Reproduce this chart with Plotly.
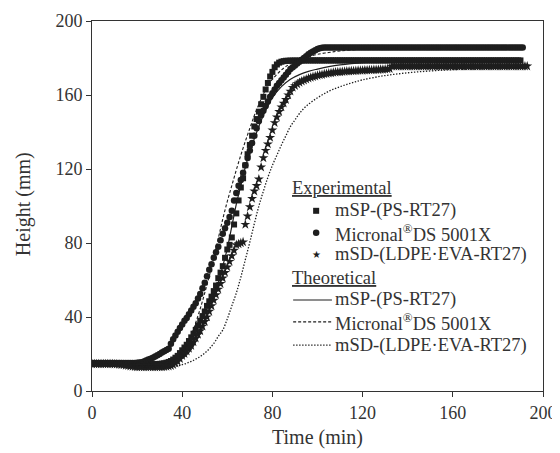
import plotly.graph_objects as go

# experimental data, sampled every minute
t_sp = list(range(0, 191))
h_sp = [
    15.0, 15.0, 15.0, 15.0, 15.0, 15.0, 15.0, 14.9, 14.9, 14.9,
    14.9, 14.8, 14.8, 14.8, 14.7, 14.7, 14.6, 14.6, 14.5, 14.5,
    14.5, 14.4, 14.4, 14.4, 14.4, 14.4, 14.5, 14.5, 14.5, 14.6,
    14.7, 14.8, 15.0, 15.3, 15.7, 16.2, 17.0, 18.0, 19.0, 20.5,
    22.0, 23.5, 25.0, 27.0, 29.0, 31.0, 33.0, 35.5, 38.0, 40.5,
    43.0, 46.0, 48.5, 51.0, 54.0, 57.0, 61.0, 64.0, 67.5, 72.0,
    76.5, 79.0, 83.0, 90.0, 96.0, 103.0, 110.0, 115.0, 122.0, 128.0,
    133.0, 138.0, 143.0, 147.0, 151.0, 155.0, 159.0, 163.0, 166.5, 170.0,
    172.5, 175.0, 176.5, 177.5, 178.0, 178.3, 178.5, 178.5, 178.6, 178.6,
    178.6, 178.6, 178.6, 178.6, 178.7, 178.7, 178.7, 178.7, 178.7, 178.7,
    178.7, 178.7, 178.7, 178.7, 178.7, 178.7, 178.7, 178.7, 178.7, 178.7,
    178.7, 178.7, 178.7, 178.7, 178.7, 178.7, 178.7, 178.7, 178.7, 178.7,
    178.7, 178.7, 178.7, 178.7, 178.7, 178.7, 178.7, 178.7, 178.7, 178.7,
    178.7, 178.7, 178.7, 178.7, 178.7, 178.7, 178.7, 178.7, 178.7, 178.7,
    178.7, 178.7, 178.7, 178.7, 178.7, 178.7, 178.7, 178.7, 178.7, 178.7,
    178.7, 178.7, 178.7, 178.7, 178.7, 178.7, 178.7, 178.7, 178.7, 178.7,
    178.7, 178.7, 178.7, 178.7, 178.7, 178.7, 178.7, 178.7, 178.7, 178.7,
    178.7, 178.7, 178.7, 178.7, 178.7, 178.7, 178.7, 178.7, 178.7, 178.7,
    178.7, 178.7, 178.7, 178.7, 178.7, 178.7, 178.7, 178.7, 178.7, 178.7,
    178.7,
]

t_ds = list(range(0, 192))
h_ds = [
    15.2, 15.2, 15.2, 15.2, 15.2, 15.2, 15.2, 15.2, 15.2, 15.2,
    15.2, 15.2, 15.2, 15.2, 15.2, 15.1, 15.1, 15.1, 15.2, 15.2,
    15.3, 15.4, 15.6, 16.0, 16.5, 17.0, 17.5, 18.0, 18.6, 19.3,
    20.0, 20.8, 21.5, 22.2, 22.8, 25.5, 28.0, 30.0, 32.0, 34.0,
    36.0, 38.0, 39.5, 41.5, 43.5, 45.5, 47.5, 50.0, 52.5, 55.5,
    58.5, 62.0, 65.5, 68.5, 72.0, 75.0, 78.0, 81.5, 85.0, 88.0,
    91.0, 94.0, 97.5, 103.0, 107.0, 111.0, 114.0, 118.0, 122.0, 126.0,
    130.0, 134.0, 138.0, 142.0, 146.0, 149.0, 151.5, 154.0, 156.5, 159.0,
    161.0, 163.0, 165.0, 166.5, 168.0, 169.5, 171.0, 172.5, 174.0, 175.0,
    176.0, 177.0, 178.0, 179.0, 180.0, 181.0, 182.0, 182.8, 183.5, 184.2,
    184.8, 185.3, 185.6, 185.7, 185.7, 185.7, 185.7, 185.7, 185.7, 185.7,
    185.7, 185.7, 185.7, 185.7, 185.7, 185.7, 185.7, 185.7, 185.7, 185.7,
    185.7, 185.7, 185.7, 185.7, 185.7, 185.7, 185.7, 185.7, 185.7, 185.7,
    185.7, 185.7, 185.7, 185.7, 185.7, 185.7, 185.7, 185.7, 185.7, 185.7,
    185.7, 185.7, 185.7, 185.7, 185.7, 185.7, 185.7, 185.7, 185.7, 185.7,
    185.7, 185.7, 185.7, 185.7, 185.7, 185.7, 185.7, 185.7, 185.7, 185.7,
    185.7, 185.7, 185.7, 185.7, 185.7, 185.7, 185.7, 185.7, 185.7, 185.7,
    185.7, 185.7, 185.7, 185.7, 185.7, 185.7, 185.7, 185.7, 185.7, 185.7,
    185.7, 185.7, 185.7, 185.7, 185.7, 185.7, 185.7, 185.7, 185.7, 185.7,
    185.7, 185.7,
]

t_sd = list(range(0, 194))
h_sd = [
    14.6, 14.6, 14.6, 14.6, 14.6, 14.6, 14.6, 14.6, 14.6, 14.6,
    14.5, 14.4, 14.3, 14.2, 14.0, 13.8, 13.6, 13.4, 13.2, 13.1,
    13.0, 13.0, 13.0, 13.0, 13.0, 13.0, 13.0, 13.0, 13.0, 13.0,
    13.0, 13.0, 13.1, 13.2, 13.4, 13.7, 14.2, 15.0, 16.0, 17.5,
    19.0, 20.2, 21.5, 23.0, 24.5, 26.5, 28.5, 30.5, 32.5, 35.0,
    37.5, 40.0, 43.0, 46.0, 49.0, 52.0, 55.0, 58.0, 61.0, 64.0,
    67.0, 70.0, 73.0, 76.0, 79.0, 79.5, 80.0, 80.5, 90.0, 94.5,
    99.5, 104.0, 108.0, 111.0, 114.5, 121.0, 126.0, 130.0, 133.5, 137.0,
    141.0, 145.0, 148.0, 151.0, 153.5, 155.5, 157.5, 160.0, 162.0, 164.0,
    165.0, 166.0, 166.8, 167.5, 168.0, 168.5, 169.0, 169.4, 169.8, 170.2,
    170.5, 170.8, 171.0, 171.3, 171.5, 171.7, 171.9, 172.1, 172.3, 172.4,
    172.5, 172.6, 172.7, 172.8, 172.9, 173.0, 173.0, 173.1, 173.2, 173.2,
    173.3, 173.4, 173.4, 173.5, 173.5, 173.6, 173.6, 173.7, 173.8, 173.8,
    173.9, 174.0, 174.2, 175.5, 175.6, 175.6, 175.6, 175.6, 175.6, 175.6,
    175.6, 175.6, 175.6, 175.6, 175.6, 175.6, 175.6, 175.6, 175.6, 175.6,
    175.6, 175.6, 175.6, 175.6, 175.6, 175.6, 175.6, 175.6, 175.6, 175.6,
    175.6, 175.6, 175.6, 175.6, 175.6, 175.6, 175.6, 175.6, 175.6, 175.6,
    175.6, 175.6, 175.6, 175.6, 175.6, 175.6, 175.6, 175.6, 175.6, 175.6,
    175.6, 175.6, 175.6, 175.6, 175.6, 175.6, 175.6, 175.6, 175.6, 175.6,
    175.6, 175.6, 175.6, 175.6,
]

# theoretical curves
tt_sp = [0, 10, 20, 30, 34, 36, 38, 40, 42, 44, 46, 48, 50, 52, 54, 56, 58, 60, 62, 64,
         66, 68, 70, 72, 74, 76, 78, 80, 84, 88, 92, 96, 100, 105, 110, 115, 120, 130, 140, 160, 190]
th_sp = [14.6, 14.6, 14.4, 14.3, 14.6, 15.2, 16.2, 17.6, 19.6, 22.5, 26.5, 31.5, 37.0, 43.5, 50.5, 58.5, 67.5, 77.0, 89.0, 101.0,
         111.0, 121.0, 129.5, 136.5, 143.0, 149.0, 154.0, 158.5, 164.5, 168.5, 171.0, 172.8, 174.0, 175.3, 176.3, 177.0, 177.5, 178.0, 178.3, 178.5, 178.5]

tt_ds = [0, 10, 20, 28, 32, 34, 36, 38, 40, 42, 44, 46, 48, 50, 52, 54, 56, 58, 60, 62,
         64, 66, 68, 70, 72, 74, 76, 78, 80, 84, 88, 92, 96, 100, 105, 110, 120, 130, 150, 191]
th_ds = [14.6, 14.6, 14.6, 14.8, 15.5, 16.3, 17.3, 18.7, 21.0, 24.5, 30.0, 37.0, 44.5, 53.0, 62.0, 72.0, 82.5, 93.0, 102.5, 111.0,
         119.5, 127.5, 135.0, 142.0, 149.0, 155.0, 160.5, 165.0, 168.5, 173.5, 177.0, 179.3, 180.8, 182.0, 183.0, 183.8, 184.8, 185.3, 185.6, 185.7]

tt_sd = [0, 10, 16, 20, 25, 30, 35, 38, 40, 42, 44, 46, 48, 50, 52, 54, 56, 58, 60, 62,
         64, 66, 68, 70, 72, 74, 76, 78, 80, 82, 84, 86, 88, 90, 92, 95, 100, 105, 110, 115,
         120, 130, 140, 150, 160, 175, 193]
th_sd = [14.5, 14.3, 14.0, 13.5, 13.1, 13.0, 13.1, 13.6, 14.2, 15.0, 16.0, 17.2, 18.7, 20.5, 22.8, 25.7, 29.5, 33.0, 39.0, 46.0,
         53.0, 61.5, 71.0, 80.5, 90.5, 100.0, 108.0, 115.5, 122.0, 127.5, 133.0, 138.0, 143.0, 146.5, 150.0, 154.0, 158.5, 162.0, 164.5, 166.5,
         168.2, 170.5, 172.0, 173.0, 173.7, 174.2, 174.5]

# text
tick_vals = [0, 40, 80, 120, 160, 200]
x_title = 'Time (min)'
y_title = 'Height (mm)'
group_titles = ['<u>Experimental</u>', '<u>Theoretical</u>']
series_names = ['mSP-(PS-RT27)', 'Micronal<sup>®</sup>DS 5001X', 'mSD-(LDPE·EVA-RT27)']

INK = '#1e1e1e'
TXT = '#333333'
SERIF = 'Liberation Serif'
DASH = '3px,2px'
DOT = '1.4px,1.6px'

fig = go.Figure()

# experimental
fig.add_trace(go.Scatter(x=t_sp, y=h_sp, mode='markers', name=series_names[0],
                         marker=dict(symbol='square', size=6, color=INK)))
fig.add_trace(go.Scatter(x=t_ds, y=h_ds, mode='markers', name=series_names[1],
                         marker=dict(symbol='circle', size=6.5, color=INK)))
fig.add_trace(go.Scatter(x=t_sd, y=h_sd, mode='markers', name=series_names[2],
                         marker=dict(symbol='star', size=7.5, color=INK, line=dict(width=0))))

# theoretical
fig.add_trace(go.Scatter(x=tt_sp, y=th_sp, mode='lines', name=series_names[0],
                         line=dict(color=INK, width=1.2, shape='spline')))
fig.add_trace(go.Scatter(x=tt_ds, y=th_ds, mode='lines', name=series_names[1],
                         line=dict(color=INK, width=1.1, dash=DASH, shape='spline')))
fig.add_trace(go.Scatter(x=tt_sd, y=th_sd, mode='lines', name=series_names[2],
                         line=dict(color=INK, width=1.3, dash=DOT, shape='spline')))

axis_style = dict(showline=True, linecolor='#333', linewidth=1, mirror=True,
                  ticks='outside', ticklen=5, tickcolor='#333', showgrid=False,
                  zeroline=False, automargin=False,
                  tickfont=dict(family=SERIF, size=18, color=TXT))

fig.update_xaxes(range=[0, 200], tickvals=tick_vals, **axis_style)
fig.update_yaxes(range=[0, 200], tickvals=tick_vals, **axis_style)

# hand-built legend and axis titles (paper coordinates)
LX0, LX1, MX, TX, GX = 0.446, 0.532, 0.497, 0.534, 0.439
rows = [0.549, 0.487, 0.428, 0.368, 0.306, 0.246, 0.187, 0.124]
shapes = []
annotations = []
lfont = dict(family=SERIF, size=18.5, color=TXT)
tfont = dict(family=SERIF, size=20, color=TXT)

annotations.append(dict(x=0.5, y=-0.127, xref='paper', yref='paper', text=x_title,
                        xanchor='center', yanchor='middle', showarrow=False, font=tfont))
annotations.append(dict(x=-0.153, y=0.505, xref='paper', yref='paper', text=y_title,
                        xanchor='center', yanchor='middle', textangle=-90, showarrow=False, font=tfont))

annotations.append(dict(x=GX, y=rows[0], xref='paper', yref='paper', text=group_titles[0],
                        xanchor='left', yanchor='middle', showarrow=False, font=lfont))
annotations.append(dict(x=GX, y=rows[4], xref='paper', yref='paper', text=group_titles[1],
                        xanchor='left', yanchor='middle', showarrow=False, font=lfont))
for i, name in enumerate(series_names):
    annotations.append(dict(x=TX, y=rows[1 + i], xref='paper', yref='paper', text=name,
                            xanchor='left', yanchor='middle', showarrow=False, font=lfont))
    annotations.append(dict(x=TX, y=rows[5 + i], xref='paper', yref='paper', text=name,
                            xanchor='left', yanchor='middle', showarrow=False, font=lfont))

# marker samples
shapes.append(dict(type='rect', xref='paper', yref='paper', x0=MX - 0.0067, x1=MX + 0.0067,
                   y0=rows[1] - 0.0081, y1=rows[1] + 0.0081, fillcolor=INK, line=dict(width=0)))
shapes.append(dict(type='circle', xref='paper', yref='paper', x0=MX - 0.0072, x1=MX + 0.0072,
                   y0=rows[2] - 0.0088, y1=rows[2] + 0.0088, fillcolor=INK, line=dict(width=0)))
annotations.append(dict(x=MX, y=rows[3], xref='paper', yref='paper', text='★',
                        xanchor='center', yanchor='middle', showarrow=False,
                        font=dict(family='DejaVu Sans', size=10, color=INK)))
# line samples
for i, dash in enumerate(['solid', DASH, DOT]):
    shapes.append(dict(type='line', xref='paper', yref='paper', x0=LX0, x1=LX1,
                       y0=rows[5 + i], y1=rows[5 + i],
                       line=dict(color=INK, width=1.2, dash=dash)))

# the page body adds an 8px margin, so the figure is 8px smaller and shifted back
fig.update_layout(
    width=552, height=445,
    margin=dict(l=84, r=17, t=13, b=62),
    plot_bgcolor='white', paper_bgcolor='white',
    font=dict(family=SERIF, color=TXT),
    showlegend=False,
    shapes=shapes,
    annotations=annotations,
)

fig.write_html('out.html')
